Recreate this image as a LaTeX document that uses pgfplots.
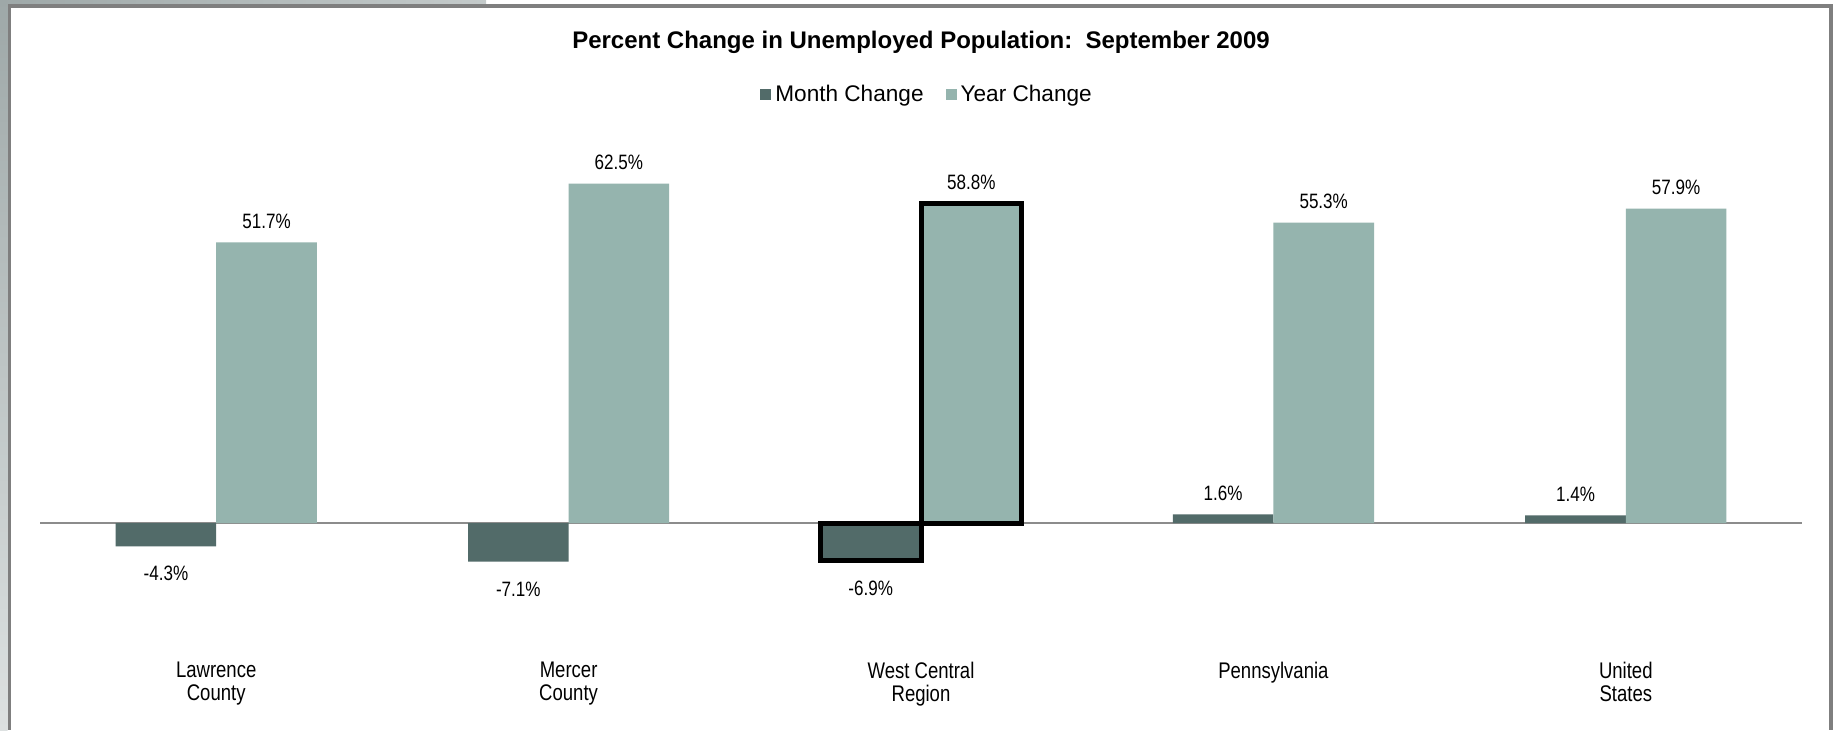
\documentclass[border=0pt]{standalone}
\usepackage{fontspec}
\setmainfont{Liberation Sans}
\newfontfamily\narrow[FakeStretch=0.82]{Liberation Sans}
\usepackage{pgfplots}
\pgfplotsset{compat=1.18}

\definecolor{monthc}{HTML}{526B69}
\definecolor{yearc}{HTML}{95B4AE}
\definecolor{zeroc}{HTML}{8C8C8C}
\definecolor{framec}{HTML}{7F7F7F}
\definecolor{framed}{HTML}{9EA8A8}
\definecolor{framel}{HTML}{DDE1E1}

\pgfplotsset{
  sq legend/.style={legend image code/.code={\fill[##1] (0pt,-2.7pt) rectangle (5.5pt,2.7pt);}},
}

\begin{document}
\begin{tikzpicture}[x=1pt,y=1pt]
% 1833 x 730 px page, 1 px = 0.5 pt
\useasboundingbox (0,0) rectangle (916.5,365);
\fill[white] (0,0) rectangle (916.5,365);
% screenshot frame
\shade[top color=framed, bottom color=framel] (0,0) rectangle (3.75,365);
\shade[left color=framed, right color=framel!60!framed] (0,362.75) rectangle (243,365);
\fill[framec] (3.75,0) rectangle (5.5,362.75);
\fill[framec] (3.75,360.75) rectangle (916.5,362.75);
\fill[framec] (914.5,0) rectangle (916.5,362.75);

\begin{axis}[
  at={(20pt,0pt)}, anchor=south west,
  scale only axis, width=881pt, height=365pt,
  xmin=-0.5, xmax=4.5, ymin=-38.12, ymax=96.32,
  axis y line=none, axis x line=middle,
  x axis line style={draw=zeroc, line width=1.1pt, -},
  xtick={0,1,2,3,4},
  xticklabels={{Lawrence\\County},{Mercer\\County},{West Central\\Region},Pennsylvania,{United\\States}},
  xtick style={draw=none},
  xticklabel style={align=center, font=\narrow\fontsize{11.3}{11.5}\selectfont, yshift=-63.7pt},
  bar width=50.3pt,
  nodes near coords={\pgfmathprintnumber[assume math mode=true,fixed,fixed zerofill,precision=1]{\pgfplotspointmeta}\%},
  nodes near coords align={vertical},
  visualization depends on={rawy \as \rawy},
  nodes near coords style={font=\narrow\fontsize{10.4}{12}\selectfont, text=black, yshift={\rawy<0 ? -6.5 : 3.5}},
  legend style={at={(rel axis cs:0.504,0.870)}, anchor=center, draw=none, fill=none,
    font=\fontsize{11.3}{13}\selectfont, legend columns=2,
    /tikz/every even column/.append style={column sep=9pt}},
  clip=false,
]
\addplot[ybar, bar shift=-25.15pt, fill=monthc, draw=none, sq legend,
    every node near coord/.append style={xshift=-25.15pt}]
  coordinates {(0,-4.3) (1,-7.1) (2,-6.9) (3,1.6) (4,1.4)};
\addlegendentry{Month Change}
\addplot[ybar, bar shift=25.15pt, fill=yearc, draw=none, sq legend,
    every node near coord/.append style={xshift=25.15pt}]
  coordinates {(0,51.7) (1,62.5) (2,58.8) (3,55.3) (4,57.9)};
\addlegendentry{Year Change}
% selected points (West Central Region) outlined
\addplot[ybar, bar shift=-25.15pt, fill=none, draw=black, line width=2.5pt, nodes near coords={}, forget plot]
  coordinates {(2,-6.9)};
\addplot[ybar, bar shift=25.15pt, fill=none, draw=black, line width=2.5pt, nodes near coords={}, forget plot]
  coordinates {(2,58.8)};

\node[font=\bfseries\fontsize{12}{14}\selectfont] at (rel axis cs:0.5,0.942)
  {Percent Change in Unemployed Population:\ \ September 2009};
\end{axis}
\end{tikzpicture}
\end{document}
